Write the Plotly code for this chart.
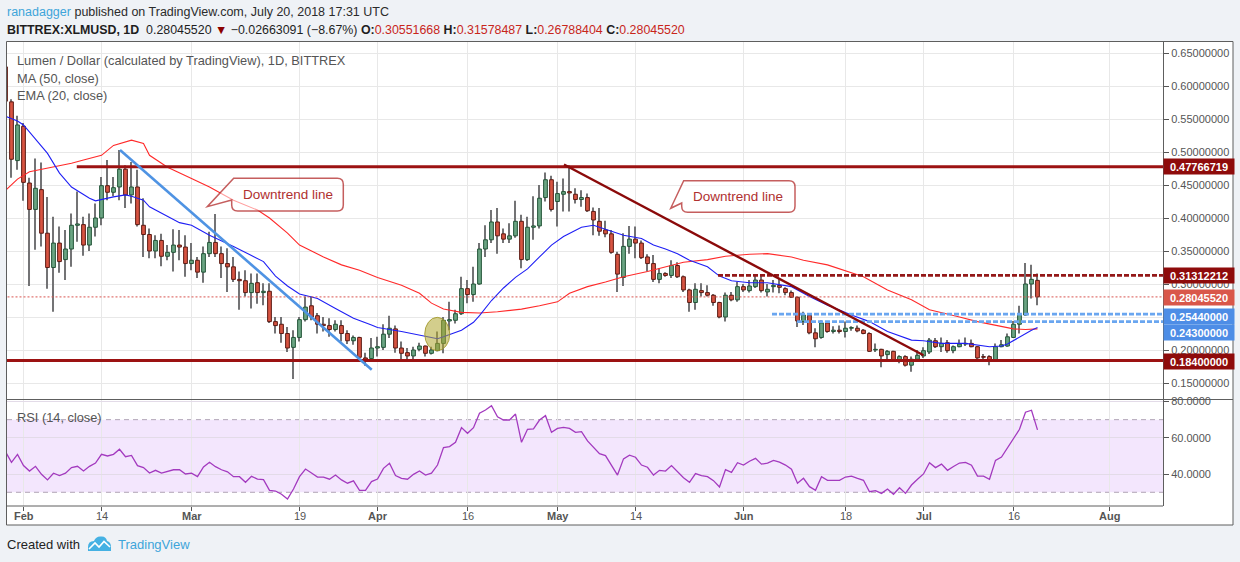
import plotly.graph_objects as go
import pandas as pd

# ---------------- data ----------------
dates = pd.date_range("2018-01-29", "2018-07-20", freq="D")

opens = [0.629, 0.576, 0.487,
         0.539, 0.453, 0.413, 0.443, 0.377, 0.325, 0.362, 0.337, 0.353, 0.389, 0.390, 0.359, 0.386, 0.400,
         0.449, 0.439, 0.447, 0.474, 0.435, 0.447, 0.389, 0.375, 0.350, 0.366, 0.342, 0.348, 0.359, 0.356,
         0.331, 0.336, 0.318, 0.346, 0.363, 0.346, 0.331, 0.326, 0.307, 0.305, 0.287, 0.302, 0.287, 0.289,
         0.243, 0.239, 0.225, 0.204, 0.219, 0.246, 0.267, 0.252, 0.239, 0.237, 0.231, 0.237, 0.225, 0.214,
         0.219, 0.188, 0.187,
         0.203, 0.204, 0.224, 0.232, 0.203, 0.196, 0.191, 0.201, 0.206, 0.195, 0.199, 0.210, 0.244, 0.245,
         0.255, 0.293, 0.284, 0.300, 0.353, 0.367, 0.394, 0.376, 0.368, 0.373, 0.395, 0.337, 0.386, 0.388,
         0.431, 0.458,
         0.425, 0.436, 0.440, 0.436, 0.428, 0.431, 0.410, 0.395, 0.382, 0.376, 0.345, 0.310, 0.357, 0.368,
         0.362, 0.341, 0.331, 0.307, 0.316, 0.313, 0.328, 0.311, 0.291, 0.272, 0.290, 0.287, 0.283, 0.272,
         0.250, 0.283, 0.276,
         0.296, 0.290, 0.296, 0.306, 0.288, 0.296, 0.298, 0.293, 0.287, 0.280, 0.243, 0.253, 0.226, 0.219,
         0.241, 0.228, 0.230, 0.228, 0.233, 0.233, 0.230, 0.225, 0.200, 0.201, 0.193, 0.198, 0.183, 0.190,
         0.177, 0.186,
         0.191, 0.197, 0.214, 0.205, 0.211, 0.199, 0.205, 0.209, 0.210, 0.205, 0.190, 0.190, 0.183, 0.205,
         0.206, 0.219, 0.239, 0.253, 0.300, 0.30551668]

highs = [0.640, 0.580, 0.555,
         0.544, 0.461, 0.490, 0.484, 0.432, 0.402, 0.387, 0.382, 0.407, 0.440, 0.402, 0.407, 0.422, 0.462,
         0.488, 0.462, 0.503, 0.480, 0.485, 0.473, 0.430, 0.384, 0.374, 0.376, 0.359, 0.383, 0.382, 0.374,
         0.362, 0.341, 0.357, 0.379, 0.406, 0.357, 0.354, 0.341, 0.319, 0.321, 0.316, 0.316, 0.301, 0.301,
         0.250, 0.250, 0.235, 0.230, 0.250, 0.281, 0.281, 0.256, 0.250, 0.248, 0.245, 0.245, 0.230, 0.222,
         0.220, 0.196, 0.218,
         0.220, 0.239, 0.252, 0.237, 0.213, 0.203, 0.205, 0.211, 0.207, 0.205, 0.228, 0.250, 0.273, 0.261,
         0.311, 0.306, 0.326, 0.362, 0.389, 0.412, 0.415, 0.384, 0.392, 0.426, 0.405, 0.402, 0.433, 0.450,
         0.469, 0.464,
         0.455, 0.460, 0.480, 0.445, 0.442, 0.437, 0.416, 0.415, 0.396, 0.382, 0.349, 0.377, 0.388, 0.387,
         0.366, 0.345, 0.344, 0.324, 0.318, 0.336, 0.333, 0.313, 0.293, 0.301, 0.301, 0.298, 0.285, 0.273,
         0.287, 0.288, 0.303,
         0.300, 0.306, 0.314, 0.314, 0.300, 0.306, 0.309, 0.295, 0.290, 0.281, 0.258, 0.255, 0.233, 0.245,
         0.244, 0.236, 0.237, 0.243, 0.236, 0.237, 0.232, 0.227, 0.210, 0.202, 0.200, 0.199, 0.192, 0.192,
         0.190, 0.200,
         0.204, 0.218, 0.218, 0.219, 0.215, 0.207, 0.216, 0.219, 0.216, 0.206, 0.194, 0.192, 0.210, 0.215,
         0.225, 0.244, 0.267, 0.332, 0.329, 0.31578487]

lows = [0.570, 0.461, 0.473,
        0.426, 0.297, 0.352, 0.357, 0.293, 0.258, 0.317, 0.306, 0.326, 0.364, 0.343, 0.350, 0.372, 0.389,
        0.427, 0.433, 0.427, 0.415, 0.422, 0.387, 0.341, 0.339, 0.339, 0.327, 0.336, 0.319, 0.336, 0.311,
        0.321, 0.309, 0.302, 0.341, 0.341, 0.309, 0.288, 0.303, 0.261, 0.281, 0.263, 0.270, 0.268, 0.241,
        0.225, 0.211, 0.197, 0.156, 0.213, 0.243, 0.245, 0.225, 0.228, 0.220, 0.228, 0.213, 0.209, 0.208,
        0.184, 0.176, 0.185,
        0.190, 0.200, 0.218, 0.196, 0.185, 0.186, 0.186, 0.198, 0.190, 0.193, 0.198, 0.195, 0.230, 0.240,
        0.253, 0.271, 0.273, 0.299, 0.341, 0.362, 0.346, 0.362, 0.362, 0.370, 0.324, 0.335, 0.367, 0.384,
        0.425, 0.410,
        0.387, 0.410, 0.410, 0.422, 0.417, 0.409, 0.374, 0.373, 0.371, 0.346, 0.288, 0.297, 0.346, 0.339,
        0.338, 0.319, 0.303, 0.301, 0.311, 0.309, 0.309, 0.288, 0.258, 0.261, 0.281, 0.281, 0.267, 0.248,
        0.243, 0.274, 0.273,
        0.288, 0.287, 0.294, 0.287, 0.281, 0.287, 0.286, 0.283, 0.279, 0.235, 0.238, 0.224, 0.204, 0.217,
        0.226, 0.225, 0.225, 0.219, 0.229, 0.227, 0.224, 0.197, 0.197, 0.174, 0.186, 0.182, 0.180, 0.175,
        0.167, 0.185,
        0.188, 0.194, 0.203, 0.197, 0.196, 0.195, 0.204, 0.206, 0.204, 0.186, 0.182, 0.177, 0.182, 0.204,
        0.205, 0.218, 0.225, 0.252, 0.278, 0.26788404]

closes = [0.577, 0.489, 0.541,
          0.454, 0.413, 0.445, 0.377, 0.325, 0.362, 0.334, 0.353, 0.389, 0.391, 0.359, 0.386, 0.400, 0.449,
          0.439, 0.446, 0.474, 0.435, 0.447, 0.390, 0.375, 0.350, 0.366, 0.342, 0.348, 0.359, 0.356, 0.331,
          0.336, 0.318, 0.346, 0.363, 0.346, 0.331, 0.326, 0.307, 0.305, 0.287, 0.301, 0.287, 0.289, 0.243,
          0.237, 0.225, 0.203, 0.219, 0.246, 0.265, 0.250, 0.239, 0.237, 0.231, 0.239, 0.225, 0.214, 0.219,
          0.189, 0.186, 0.203,
          0.205, 0.224, 0.233, 0.203, 0.195, 0.191, 0.200, 0.206, 0.195, 0.200, 0.210, 0.245, 0.246, 0.255,
          0.293, 0.284, 0.300, 0.353, 0.367, 0.394, 0.373, 0.368, 0.373, 0.395, 0.337, 0.386, 0.388, 0.430,
          0.458, 0.413,
          0.437, 0.440, 0.438, 0.428, 0.431, 0.411, 0.397, 0.380, 0.376, 0.348, 0.315, 0.357, 0.368, 0.362,
          0.340, 0.331, 0.307, 0.316, 0.313, 0.328, 0.311, 0.291, 0.272, 0.292, 0.287, 0.283, 0.272, 0.250,
          0.283, 0.276, 0.296,
          0.291, 0.297, 0.306, 0.290, 0.292, 0.298, 0.295, 0.287, 0.280, 0.244, 0.253, 0.226, 0.217, 0.241,
          0.228, 0.230, 0.228, 0.233, 0.234, 0.229, 0.225, 0.198, 0.201, 0.191, 0.198, 0.183, 0.190, 0.177,
          0.186, 0.192,
          0.199, 0.215, 0.205, 0.210, 0.199, 0.205, 0.209, 0.210, 0.205, 0.188, 0.189, 0.184, 0.205, 0.208,
          0.220, 0.239, 0.254, 0.300, 0.30708611, 0.28045520]

rsi_values = [52.4, 46.5, 50.9,
              44.7, 41.7, 44.3, 39.9, 36.8, 40.5, 39.2, 40.5, 43.6, 44.3, 41.7, 44.3, 46.1, 50.9,
              50.0, 50.9, 53.7, 49.6, 50.3, 44.7, 43.6, 40.6, 42.1, 40.6, 41.7, 42.4, 42.4, 40.1,
              40.5, 38.6, 44.0, 46.5, 44.1, 42.4, 41.3, 38.6, 38.6, 35.5, 38.8, 37.3, 37.0, 31.1,
              30.7, 28.9, 26.3, 31.8, 38.6, 42.8, 40.6, 38.4, 38.4, 37.2, 39.5, 36.8, 35.0, 36.3,
              31.1, 31.1, 35.9,
              37.3, 43.2, 46.0, 39.2, 37.7, 37.2, 39.9, 41.7, 39.5, 40.5, 45.0, 54.6, 55.2, 57.5,
              65.6, 62.5, 65.6, 73.5, 75.3, 77.7, 71.6, 69.8, 69.8, 73.1, 57.5, 64.7, 64.9, 69.8,
              72.2, 63.0,
              65.2, 65.7, 65.2, 63.0, 63.4, 58.3, 54.8, 51.3, 50.2, 45.0, 39.5, 48.4, 50.4, 49.3,
              45.0, 43.8, 39.5, 42.1, 41.7, 44.7, 41.3, 38.0, 35.5, 40.3, 39.2, 38.6, 36.4, 32.9,
              42.5, 41.0, 46.3,
              45.0, 47.1, 48.7, 45.5, 46.1, 47.6, 46.6, 45.0, 42.7, 35.0, 37.7, 33.1, 31.1, 38.6,
              36.6, 36.6, 36.6, 38.4, 38.9, 37.7, 36.6, 30.3, 30.9, 29.4, 31.8, 28.9, 32.5, 29.4,
              34.0, 37.2,
              40.1, 46.3, 43.6, 45.5, 42.1, 44.2, 46.1, 46.5, 44.9, 38.9, 38.9, 37.2, 47.6, 49.4,
              54.6, 60.1, 64.7, 74.1, 75.2, 64.4]

ma50_dates = ["2018-01-29", "2018-01-31", "2018-02-02", "2018-02-06", "2018-02-09", "2018-02-11",
              "2018-02-14", "2018-02-16", "2018-02-19", "2018-02-21", "2018-02-22", "2018-02-25",
              "2018-02-27", "2018-03-01", "2018-03-04", "2018-03-08", "2018-03-12", "2018-03-14",
              "2018-03-17", "2018-03-19", "2018-03-23", "2018-03-26", "2018-03-29", "2018-04-01",
              "2018-04-05", "2018-04-08", "2018-04-10", "2018-04-12", "2018-04-15", "2018-04-18",
              "2018-04-21", "2018-04-25", "2018-04-28", "2018-05-01", "2018-05-03", "2018-05-06",
              "2018-05-09", "2018-05-12", "2018-05-16", "2018-05-19", "2018-05-22", "2018-05-26",
              "2018-05-29", "2018-06-02", "2018-06-05", "2018-06-09", "2018-06-11", "2018-06-15",
              "2018-06-21", "2018-06-25", "2018-06-29", "2018-07-02", "2018-07-04", "2018-07-07",
              "2018-07-10", "2018-07-14", "2018-07-16", "2018-07-18", "2018-07-20"]
ma50_values = [0.442, 0.459, 0.470, 0.477, 0.483, 0.488,
               0.495, 0.510, 0.518, 0.513, 0.495, 0.477,
               0.468, 0.460, 0.447, 0.427, 0.412, 0.400,
               0.377, 0.359, 0.341, 0.329, 0.321, 0.310,
               0.298, 0.286, 0.271, 0.262, 0.257, 0.256,
               0.258, 0.262, 0.267, 0.273, 0.286, 0.296,
               0.303, 0.311, 0.319, 0.326, 0.333, 0.337,
               0.342, 0.345, 0.346, 0.341, 0.336, 0.329,
               0.311, 0.291, 0.276, 0.261, 0.257, 0.250,
               0.243, 0.236, 0.232, 0.231, 0.232]

ema20_dates = ["2018-01-29", "2018-01-31", "2018-02-01", "2018-02-02", "2018-02-05", "2018-02-07",
               "2018-02-09", "2018-02-12", "2018-02-13", "2018-02-16", "2018-02-18", "2018-02-19",
               "2018-02-21", "2018-02-22", "2018-02-25", "2018-02-27", "2018-03-01", "2018-03-04",
               "2018-03-08", "2018-03-13", "2018-03-15", "2018-03-17", "2018-03-19", "2018-03-22",
               "2018-03-25", "2018-03-28", "2018-03-31", "2018-04-01", "2018-04-05", "2018-04-08",
               "2018-04-11", "2018-04-12", "2018-04-15", "2018-04-17", "2018-04-18", "2018-04-20",
               "2018-04-22", "2018-04-24", "2018-04-26", "2018-04-28", "2018-04-30", "2018-05-02",
               "2018-05-05", "2018-05-07", "2018-05-08", "2018-05-10", "2018-05-12", "2018-05-15",
               "2018-05-17", "2018-05-19", "2018-05-21", "2018-05-23", "2018-05-26", "2018-05-28",
               "2018-05-30", "2018-06-02", "2018-06-05", "2018-06-09", "2018-06-12", "2018-06-15",
               "2018-06-19", "2018-06-22", "2018-06-25", "2018-06-29", "2018-07-01", "2018-07-04",
               "2018-07-08", "2018-07-12", "2018-07-14", "2018-07-15", "2018-07-17", "2018-07-19",
               "2018-07-20"]
ema20_values = [0.554, 0.547, 0.541, 0.530, 0.498, 0.468,
                0.447, 0.430, 0.426, 0.432, 0.435, 0.433,
                0.427, 0.417, 0.402, 0.393, 0.389, 0.374,
                0.357, 0.334, 0.312, 0.297, 0.285, 0.278,
                0.263, 0.248, 0.238, 0.234, 0.228, 0.223,
                0.217, 0.220, 0.230, 0.242, 0.252, 0.275,
                0.294, 0.310, 0.323, 0.341, 0.359, 0.372,
                0.386, 0.389, 0.386, 0.379, 0.374, 0.369,
                0.359, 0.353, 0.346, 0.336, 0.326, 0.312,
                0.305, 0.302, 0.302, 0.296, 0.281, 0.268,
                0.253, 0.243, 0.228, 0.215, 0.214, 0.210,
                0.210, 0.205, 0.206, 0.209, 0.220, 0.230,
                0.234]

tick_dates = ["2018-02-01", "2018-02-14", "2018-03-01", "2018-03-19", "2018-04-01", "2018-04-16",
              "2018-05-01", "2018-05-14", "2018-06-01", "2018-06-18", "2018-07-01", "2018-07-16",
              "2018-08-01"]
tick_labels = ["Feb", "14", "Mar", "19", "Apr", "16", "May", "14", "Jun", "18", "Jul", "16", "Aug"]
tick_is_month = [True, False, True, False, True, False, True, False, True, False, True, False, True]

price_ticks = [0.15, 0.20, 0.25, 0.30, 0.35, 0.40, 0.45, 0.50, 0.55, 0.60, 0.65]
rsi_ticks = [40, 60, 80]
rsi_band = [30, 70]

level_values = [0.47766719, 0.31312212, 0.2544, 0.243, 0.184]
level_starts = ["2018-02-09 21:00", "2018-05-27 18:00", "2018-06-05 18:00", "2018-06-09 22:00", "2018-01-20"]

trend1_dates = ["2018-02-17 02:00", "2018-03-31 01:00"]
trend1_values = [0.503, 0.170]
trend2_dates = ["2018-05-02 02:00", "2018-07-01 00:00"]
trend2_values = [0.481, 0.192]

ellipse_dates = ["2018-04-08 21:00", "2018-04-13 01:00"]
ellipse_values = [0.1989, 0.2495]

last_change = -0.02663091
last_change_pct = -8.67

# ---------------- geometry / style ----------------
W, H = 1240, 562
L, R, T, B = 7, 1163, 42, 506
SPLIT = 399.5
FONT = "Liberation Sans, Arial, sans-serif"
X_RANGE = ["2018-01-29 06:00", "2018-08-09 22:00"]
DAY_MS = 86400000
PAGE_BG = "#eff2f6"


def px(x):
    return (x - L) / (R - L)


def py(y):
    return (B - y) / (B - T)


main_dom = [py(SPLIT), 1.0]
rsi_dom = [0.0, py(SPLIT)]

UP_FILL, UP_LINE = "#6ba583", "#225437"
DN_FILL, DN_LINE = "#d75442", "#5b1a13"
WICK = "#737375"

fig = go.Figure()

# wicks (thin bars, drawn before bodies)
fig.add_trace(go.Bar(
    x=dates, y=[h - l for h, l in zip(highs, lows)], base=lows,
    width=0.17 * DAY_MS, marker=dict(color=WICK, line=dict(width=0)),
    xaxis="x", yaxis="y", hoverinfo="skip", showlegend=False))

up = [c >= o for o, c in zip(opens, closes)]
fig.add_trace(go.Bar(
    x=dates,
    y=[max(abs(c - o), 0.0007) for o, c in zip(opens, closes)],
    base=[min(o, c) for o, c in zip(opens, closes)],
    width=0.62 * DAY_MS,
    marker=dict(color=[UP_FILL if u else DN_FILL for u in up],
                line=dict(color=[UP_LINE if u else DN_LINE for u in up], width=1)),
    xaxis="x", yaxis="y", hoverinfo="skip", showlegend=False))

# moving averages
fig.add_trace(go.Scatter(x=ma50_dates, y=ma50_values, mode="lines",
                         line=dict(color="#ff2a2a", width=1.1), xaxis="x", yaxis="y",
                         hoverinfo="skip", showlegend=False))
fig.add_trace(go.Scatter(x=ema20_dates, y=ema20_values, mode="lines",
                         line=dict(color="#1f1ff5", width=1.1), xaxis="x", yaxis="y",
                         hoverinfo="skip", showlegend=False))

# current price dotted line
fig.add_trace(go.Scatter(x=["2018-01-20", "2018-08-20"], y=[closes[-1], closes[-1]], mode="lines",
                         line=dict(color="#d9534f", width=1, dash="2px,2px"), xaxis="x", yaxis="y",
                         hoverinfo="skip", showlegend=False))

# horizontal levels
level_styles = [dict(color="#9c1212", width=3, dash="solid"),
                dict(color="#941818", width=2.6, dash="5px,2px"),
                dict(color="#6aa6f0", width=2.6, dash="5px,2px"),
                dict(color="#6aa6f0", width=2.6, dash="5px,2px"),
                dict(color="#9c1212", width=3, dash="solid")]
for v, s, st in zip(level_values, level_starts, level_styles):
    fig.add_trace(go.Scatter(x=[s, "2018-08-20"], y=[v, v], mode="lines", line=st,
                             xaxis="x", yaxis="y", hoverinfo="skip", showlegend=False))

# trend lines
fig.add_trace(go.Scatter(x=trend1_dates, y=trend1_values, mode="lines",
                         line=dict(color="#4f93e3", width=2.6), xaxis="x", yaxis="y",
                         hoverinfo="skip", showlegend=False))
fig.add_trace(go.Scatter(x=trend2_dates, y=trend2_values, mode="lines",
                         line=dict(color="#8b0a0a", width=2.4), xaxis="x", yaxis="y",
                         hoverinfo="skip", showlegend=False))

# RSI
fig.add_trace(go.Scatter(x=dates, y=rsi_values, mode="lines",
                         line=dict(color="#a33abf", width=1.3), xaxis="x2", yaxis="y2",
                         hoverinfo="skip", showlegend=False))

shapes = []
# white chart frame
shapes.append(dict(type="rect", xref="paper", yref="paper", x0=px(6.5), x1=px(1233), y0=py(525), y1=py(41.5),
                   fillcolor="white", line=dict(color="#5e5e5e", width=1), layer="below"))
# RSI band
shapes.append(dict(type="rect", xref="paper", yref="y2", x0=0, x1=1, y0=rsi_band[0], y1=rsi_band[1],
                   fillcolor="#f3e6fd", line=dict(width=0), layer="below"))
for lv in rsi_band:
    shapes.append(dict(type="line", xref="paper", yref="y2", x0=0, x1=1, y0=lv, y1=lv,
                       line=dict(color="#b0a4b6", width=1, dash="5px,4px"), layer="between"))
# pane separator and bottom line
shapes.append(dict(type="line", xref="paper", yref="paper", x0=px(6.5), x1=px(1233), y0=py(SPLIT), y1=py(SPLIT),
                   line=dict(color="#5e5e5e", width=1), layer="above"))
shapes.append(dict(type="line", xref="paper", yref="paper", x0=px(6.5), x1=1, y0=0, y1=0,
                   line=dict(color="#5e5e5e", width=1), layer="above"))
# highlight ellipse
shapes.append(dict(type="circle", xref="x", yref="y", x0=ellipse_dates[0], x1=ellipse_dates[1],
                   y0=ellipse_values[0], y1=ellipse_values[1],
                   fillcolor="rgba(175,165,45,0.55)", line=dict(color="rgba(160,150,40,0.85)", width=1),
                   layer="above"))


def callout(x0, y0, x1, y1, tip, att_y, r=6):
    p = []
    p.append(f"M {px(x0 + r)},{py(y0)}")
    p.append(f"L {px(x1 - r)},{py(y0)}")
    p.append(f"Q {px(x1)},{py(y0)} {px(x1)},{py(y0 + r)}")
    p.append(f"L {px(x1)},{py(y1 - r)}")
    p.append(f"Q {px(x1)},{py(y1)} {px(x1 - r)},{py(y1)}")
    p.append(f"L {px(x0 + r)},{py(y1)}")
    p.append(f"Q {px(x0)},{py(y1)} {px(x0)},{py(y1 - r)}")
    p.append(f"L {px(x0)},{py(att_y)}")
    p.append(f"L {px(tip[0])},{py(tip[1])}")
    p.append(f"L {px(x0 + 2)},{py(y0)}")
    p.append("Z")
    return dict(type="path", xref="paper", yref="paper", path=" ".join(p),
                fillcolor="rgba(255,255,255,0.55)", line=dict(color="rgba(178,40,40,0.75)", width=1.5),
                layer="above")


callouts = [((231.7, 178.3, 343.3, 211.0), (207.3, 206.7), 200.0),
            ((681.7, 180.7, 795.0, 212.3), (670.7, 208.3), 203.0)]
for box, tip, att in callouts:
    shapes.append(callout(*box, tip, att))

# TradingView logo (bottom)
shapes.append(dict(type="path", xref="paper", yref="paper",
                   path=(f"M {px(88)},{py(551)} L {px(88)},{py(547)} Q {px(88)},{py(541)} {px(94)},{py(541)} "
                         f"Q {px(96)},{py(536)} {px(101)},{py(536.5)} Q {px(106)},{py(536)} {px(107)},{py(541)} "
                         f"Q {px(111)},{py(542)} {px(111)},{py(547)} L {px(111)},{py(551)} Z"),
                   fillcolor="#45b1e3", line=dict(width=0), layer="above"))
shapes.append(dict(type="path", xref="paper", yref="paper",
                   path=(f"M {px(89)},{py(549)} L {px(95)},{py(543)} L {px(99)},{py(547)} "
                         f"L {px(104)},{py(541.5)} L {px(110)},{py(547)}"),
                   line=dict(color="white", width=1.6), layer="above"))

annotations = []


def text(x, y, s, size=13, color="#333333", xanchor="left"):
    annotations.append(dict(x=px(x), y=py(y), xref="paper", yref="paper", text=s, showarrow=False,
                            xanchor=xanchor, yanchor="middle", font=dict(family=FONT, size=size, color=color)))


text(5, 12.3, "<span style='color:#3ea5da'>ranadagger</span> published on TradingView.com, July 20, 2018 17:31 UTC",
     size=12.5, color="#2b2b2b")
RED = "#c8261b"
line2 = (f"<b>BITTREX:XLMUSD, 1D</b>  {closes[-1]:.8f} <span style='color:#8b0000'>▼</span> "
         f"−{abs(last_change):.8f} (−{abs(last_change_pct):.2f}%) "
         f"<b>O:</b><span style='color:{RED}'>{opens[-1]:.8f}</span> "
         f"<b>H:</b><span style='color:{RED}'>{highs[-1]:.8f}</span> "
         f"<b>L:</b><span style='color:{RED}'>{lows[-1]:.8f}</span> "
         f"<b>C:</b><span style='color:{RED}'>{closes[-1]:.8f}</span>")
text(5, 29.5, line2, size=12.4, color="#1e1e1e")

text(14.5, 61, "Lumen / Dollar (calculated by TradingView), 1D, BITTREX", size=12.8, color="#555555")
text(14.5, 78.3, "MA (50, close)", size=12.8, color="#555555")
text(14.5, 95, "EMA (20, close)", size=12.8, color="#555555")
text(14.5, 417, "RSI (14, close)", size=12.8, color="#555555")

text(287.5, 194.6, "Downtrend line", size=13.5, color="#b03030", xanchor="center")
text(738.3, 196.5, "Downtrend line", size=13.5, color="#b03030", xanchor="center")

text(5, 544, "Created with", size=13, color="#222222")
text(116, 544, "TradingView", size=13, color="#3ea5da")

# time-axis labels
for d, t, m in zip(tick_dates, tick_labels, tick_is_month):
    annotations.append(dict(x=d, xref="x2", y=py(516), yref="paper", yanchor="middle", xanchor="center",
                            text=f"<b>{t}</b>" if m else t, showarrow=False,
                            font=dict(family=FONT, size=11, color="#555555")))

# value labels on the price scale
label_values = [level_values[0], level_values[1], closes[-1], level_values[2], level_values[3], level_values[4]]
label_colors = ["#8e0b0b", "#8e0b0b", "#d9574a", "#4d8de6", "#4d8de6", "#8e0b0b"]
label_shifts = [0, 0, -0.8, -1.9, -10.6, -1.1]
for v, c, s in zip(label_values, label_colors, label_shifts):
    annotations.append(dict(x=1, xref="paper", xanchor="left", y=v, yref="y", yanchor="middle", yshift=s,
                            text=f"<b>{v:.8f}</b>", showarrow=False, bgcolor=c, width=67, height=12,
                            borderpad=1.5, font=dict(family=FONT, size=11, color="white")))

fig.update_layout(
    width=W, height=H,
    margin=dict(l=L, r=W - R, t=T, b=H - B, pad=0),
    paper_bgcolor=PAGE_BG, plot_bgcolor="white",
    barmode="overlay",
    showlegend=False,
    font=dict(family=FONT, size=11, color="#555555"),
    xaxis=dict(domain=[0, 1], anchor="y", type="date", range=X_RANGE, tickvals=tick_dates,
               showticklabels=False, ticks="", showgrid=True, gridcolor="#e8e8e8", gridwidth=1,
               zeroline=False, showline=False, fixedrange=True),
    xaxis2=dict(domain=[0, 1], anchor="y2", type="date", range=X_RANGE, matches="x",
                tickvals=tick_dates, showticklabels=False, ticks="outside", ticklen=4, tickcolor="#555555",
                showgrid=True, gridcolor="#e8e8e8", zeroline=False, showline=False),
    yaxis=dict(domain=main_dom, anchor="x", side="right", range=[0.125, 0.6667],
               tickvals=price_ticks, ticktext=[f"{v:.8f}" for v in price_ticks],
               ticks="outside", ticklen=5, tickcolor="#555555", showline=True, linecolor="#5e5e5e",
               tickfont=dict(family=FONT, size=11, color="#555555"),
               showgrid=True, gridcolor="#e8e8e8", zeroline=False),
    yaxis2=dict(domain=rsi_dom, anchor="x2", side="right", range=[22.45, 81.1],
                tickvals=rsi_ticks, ticktext=[f"{v:.4f}" for v in rsi_ticks],
                ticks="outside", ticklen=5, tickcolor="#555555", showline=True, linecolor="#5e5e5e",
                tickfont=dict(family=FONT, size=11, color="#555555"),
                showgrid=True, gridcolor="#e3dbe8", zeroline=False),
    shapes=shapes,
    annotations=annotations,
)

fig.write_html("out.html",
               config={"displayModeBar": False},
               post_script=("document.body.style.margin='0px';document.body.style.padding='0px';"
                            f"document.body.style.background='{PAGE_BG}';"
                            "document.body.style.overflow='hidden';"))
